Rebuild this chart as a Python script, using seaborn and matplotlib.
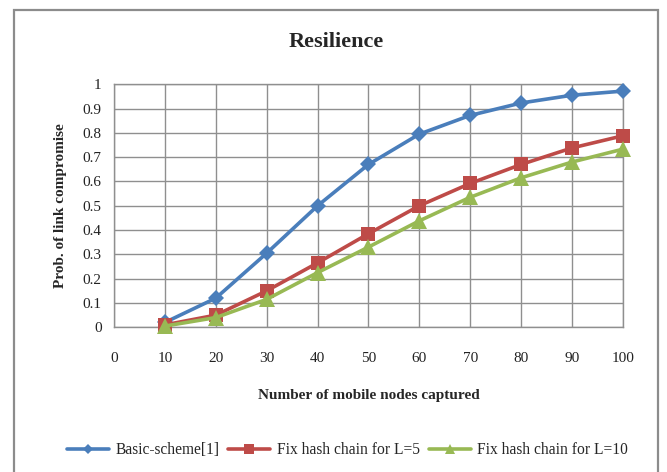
import matplotlib
matplotlib.use("Agg")
import matplotlib.pyplot as plt
import seaborn as sns
import pandas as pd
from matplotlib.patches import Rectangle

captured = [10, 20, 30, 40, 50, 60, 70, 80, 90, 100]
basic = [0.02, 0.12, 0.305, 0.50, 0.67, 0.795, 0.872, 0.923, 0.955, 0.972]
fix_l5 = [0.01, 0.05, 0.15, 0.265, 0.385, 0.50, 0.592, 0.67, 0.738, 0.788]
fix_l10 = [0.005, 0.04, 0.115, 0.225, 0.33, 0.438, 0.535, 0.615, 0.68, 0.733]
series_names = ["Basic-scheme[1]", "Fix hash chain for L=5", "Fix hash chain for L=10"]
x_ticks = [0, 10, 20, 30, 40, 50, 60, 70, 80, 90, 100]
y_ticks = [0, 0.1, 0.2, 0.3, 0.4, 0.5, 0.6, 0.7, 0.8, 0.9, 1]
y_tick_labels = ["0", "0.1", "0.2", "0.3", "0.4", "0.5", "0.6", "0.7", "0.8", "0.9", "1"]

df = pd.DataFrame({
    "x": captured * 3,
    "y": basic + fix_l5 + fix_l10,
    "series": [series_names[0]] * 10 + [series_names[1]] * 10 + [series_names[2]] * 10,
})

sns.set_style("white")
plt.rcParams["font.family"] = ["Liberation Serif", "DejaVu Serif"]

fig = plt.figure(figsize=(6.67, 4.72), dpi=100)
ax = fig.add_axes([0.171, 0.3066, 0.7627, 0.5148])

# outer chart border
fig.patches.append(Rectangle((14 / 667, -0.05), (658 - 14) / 667, 1 - 9.5 / 472 + 0.05,
                             transform=fig.transFigure, fill=False,
                             edgecolor="#8c8c8c", linewidth=1.6, zorder=0))

palette = {series_names[0]: "#4A7EBB", series_names[1]: "#BE4B48", series_names[2]: "#98B954"}
markers = {series_names[0]: "D", series_names[1]: "s", series_names[2]: "^"}
sizes = {series_names[0]: 8, series_names[1]: 10, series_names[2]: 11}

for name in series_names:
    sub = df[df["series"] == name]
    sns.lineplot(data=sub, x="x", y="y", ax=ax, color=palette[name], linewidth=2.6,
                 marker=markers[name], markersize=sizes[name], markeredgewidth=0,
                 label=name, clip_on=False, zorder=3)

ax.set_xlim(0, 100)
ax.set_ylim(0, 1)
ax.set_xticks(x_ticks)
ax.set_xticklabels([str(v) for v in x_ticks])
ax.set_yticks(y_ticks)
ax.set_yticklabels(y_tick_labels)
ax.grid(True, color="#8f8f8f", linewidth=1.0)
ax.set_axisbelow(True)
for s in ax.spines.values():
    s.set_color("#8f8f8f")
    s.set_linewidth(1.0)
ax.tick_params(axis="both", length=0, labelsize=11, colors="#222222")
ax.tick_params(axis="x", pad=18)
ax.tick_params(axis="y", pad=9)

ax.set_xlabel("Number of mobile nodes captured", fontsize=11, fontweight="bold", labelpad=17)
ax.set_ylabel("Prob. of link compromise", fontsize=11, fontweight="bold", labelpad=11)
fig.text(336 / 667, 1 - 42 / 472, "Resilience", ha="center", va="center",
         fontsize=16, fontweight="bold")

leg = ax.legend(loc="center", bbox_to_anchor=(0.521, 0.046), bbox_transform=fig.transFigure,
                ncol=3, frameon=False, fontsize=11.2, handlelength=2.7, handletextpad=0.4,
                columnspacing=0.6, markerscale=0.7)

fig.savefig("out.png", dpi=100)
